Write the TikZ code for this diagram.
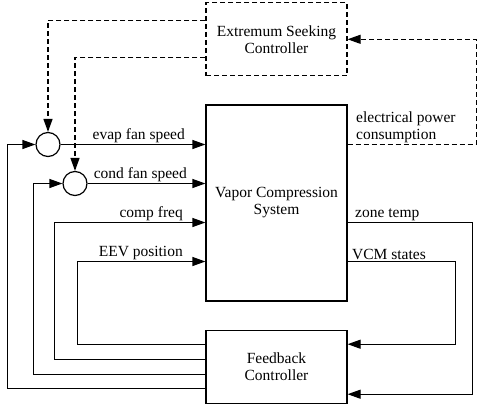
\documentclass[tikz,border=0pt]{standalone}
\usepackage{fontspec}
\setmainfont{Liberation Serif}
\usetikzlibrary{arrows.meta, positioning}

\begin{document}
\begin{tikzpicture}[
        x=1bp,
        y=1bp,
        block/.style={
            draw,
            line width=1.2bp,
            minimum width=141bp,
            minimum height=73bp,
            align=center,
            font=\fontsize{15.5bp}{17bp}\selectfont
        },
        supervisor/.style={
            block,
            dash pattern=on 5bp off 3bp
        },
        junction/.style={
            circle,
            draw,
            line width=1.2bp,
            minimum size=24bp,
            inner sep=0pt
        },
        signalarrow/.style={
            -{Triangle[length=13bp, width=9bp]},
            line width=1.2bp
        },
        tuningarrow/.style={
            signalarrow,
            dash pattern=on 5bp off 3bp
        },
        signallabel/.style={
            font=\fontsize{15.5bp}{17bp}\selectfont,
            inner sep=1bp,
            align=left
        }
    ]

        \useasboundingbox (0,0) rectangle (477,407);

        % ---------------------------------------------------------------------
        % Main blocks
        % ---------------------------------------------------------------------

        \node[
            block,
            minimum height=196bp
        ] (vcs) at (276.5,204) {Vapor Compression\\System};

        \node[
            supervisor,
            above=28bp of vcs
        ] (esc) {Extremum Seeking\\Controller};

        \node[
            block,
            below=28bp of vcs
        ] (fbc) {Feedback\\Controller};

        \node[junction] (evapsum) at (48,262.5) {};
        \node[junction] (condsum) at (75,223.5) {};


        % ---------------------------------------------------------------------
        % Inputs of the vapor compression system
        % ---------------------------------------------------------------------

        \draw[signalarrow]
            (evapsum) -- (evapsum -| vcs.west)
            node[signallabel, pos=1, above left, xshift=-19bp] {evap fan speed};

        \draw[signalarrow]
            (condsum) -- (condsum -| vcs.west)
            node[signallabel, pos=1, above left, xshift=-17bp] {cond fan speed};

        \draw[signalarrow]
            ([yshift=7.5bp]fbc.west) -- ++(-151,0)
            |- ([yshift=-19.5bp]vcs.west)
            node[signallabel, pos=1, above left, xshift=-21bp] {comp freq};

        \draw[signalarrow]
            ([yshift=22.5bp]fbc.west) -- ++(-128,0)
            |- ([yshift=-58.5bp]vcs.west)
            node[signallabel, pos=1, above left, xshift=-21bp] {EEV position};

        % Feedback parts of the fan speeds enter the summing junctions.
        \draw[signalarrow]
            ([yshift=-21.5bp]fbc.west) -- ++(-198,0) |- (evapsum);

        \draw[signalarrow]
            ([yshift=-7.5bp]fbc.west) -- ++(-172,0) |- (condsum);


        % ---------------------------------------------------------------------
        % Measured outputs back to the feedback controller
        % ---------------------------------------------------------------------

        \draw[signalarrow]
            ([yshift=-19.5bp]vcs.east)
            node[signallabel, above right, xshift=6bp] {zone temp}
            -- ++(125,0) |- ([yshift=-27.5bp]fbc.east);

        \draw[signalarrow]
            ([yshift=-58.5bp]vcs.east)
            node[signallabel, above right, xshift=3bp] {VCM states}
            -- ++(108,0) |- ([yshift=22.5bp]fbc.east);


        % ---------------------------------------------------------------------
        % Extremum seeking loop (dashed)
        % ---------------------------------------------------------------------

        \draw[tuningarrow]
            ([yshift=58.5bp]vcs.east)
            node[signallabel, above right, xshift=7bp] {electrical power\\consumption}
            -- ++(128.5,0) |- (esc);

        \draw[tuningarrow]
            ([yshift=18.5bp]esc.west) -| (evapsum);

        \draw[tuningarrow]
            ([yshift=-18.5bp]esc.west) -| (condsum);

    \end{tikzpicture}
\end{document}
